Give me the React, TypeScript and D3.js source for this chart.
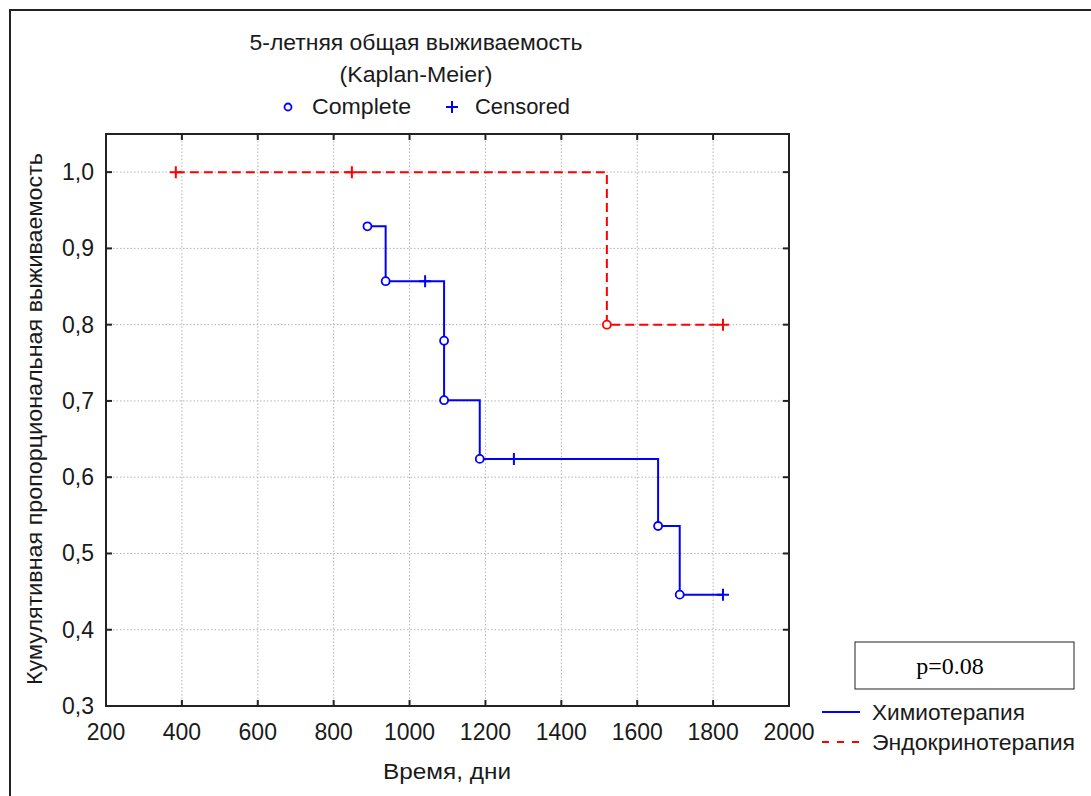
import { useRef, useEffect } from 'react';
import * as d3 from 'd3';

// Chemo group (blue) - time in days, KM survival, censored flag
const chemoTimes = [889, 937, 1041, 1091, 1091, 1185, 1275, 1655, 1712, 1826];
const chemoSurv = [0.929, 0.857, 0.857, 0.779, 0.701, 0.624, 0.624, 0.536, 0.446, 0.446];
const chemoCensored = [0, 0, 1, 0, 0, 0, 1, 0, 0, 1];

// Endocrine group (red)
const endoTimes = [384, 848, 1520, 1826];
const endoSurv = [1.0, 1.0, 0.8, 0.8];
const endoCensored = [1, 1, 0, 1];

const xTicks = [200, 400, 600, 800, 1000, 1200, 1400, 1600, 1800, 2000];
const yTicks = [0.3, 0.4, 0.5, 0.6, 0.7, 0.8, 0.9, 1.0];

const W = 1091;
const H = 796;
const SANS = '"Liberation Sans", Arial, sans-serif';
const TEXT = '#1a1a1a';

export default function App() {
  const svgRef = useRef<SVGSVGElement>(null);

  useEffect(() => {
    const svg = d3.select(svgRef.current);
    svg.selectAll('*').remove();

    const x = d3.scaleLinear().domain([200, 2000]).range([106, 789]);
    const y = d3.scaleLinear().domain([0.3, 1.05]).range([706, 134]);

    // outer frame (cut by the window on the right/bottom)
    svg.append('rect')
      .attr('x', 10).attr('y', 10)
      .attr('width', W + 20).attr('height', H + 20)
      .attr('fill', 'white').attr('stroke', '#222').attr('stroke-width', 2);

    // title
    const title = [
      { t: '5-летняя общая выживаемость', y: 50, len: 333 },
      { t: '(Kaplan-Meier)', y: 82, len: 153 },
    ];
    title.forEach(l => {
      svg.append('text')
        .attr('x', 416).attr('y', l.y)
        .attr('text-anchor', 'middle')
        .attr('font-family', SANS).attr('font-size', 22)
        .attr('fill', TEXT)
        .attr('textLength', l.len).attr('lengthAdjust', 'spacingAndGlyphs')
        .text(l.t);
    });

    // top legend: Complete / Censored
    svg.append('circle')
      .attr('cx', 288).attr('cy', 107).attr('r', 3.5)
      .attr('fill', 'white').attr('stroke', '#0000ff').attr('stroke-width', 1.8);
    svg.append('text')
      .attr('x', 312).attr('y', 114)
      .attr('font-family', SANS).attr('font-size', 22).attr('fill', TEXT)
      .attr('textLength', 99).attr('lengthAdjust', 'spacingAndGlyphs')
      .text('Complete');
    svg.append('path')
      .attr('d', 'M446,107H458M452,101V113')
      .attr('stroke', '#0000ff').attr('stroke-width', 2);
    svg.append('text')
      .attr('x', 475).attr('y', 114)
      .attr('font-family', SANS).attr('font-size', 22).attr('fill', TEXT)
      .attr('textLength', 95).attr('lengthAdjust', 'spacingAndGlyphs')
      .text('Censored');

    // grid
    const grid = svg.append('g')
      .attr('stroke', '#b4b4b4').attr('stroke-width', 1).attr('stroke-dasharray', '1.5,2');
    xTicks.slice(1, -1).forEach(t => {
      grid.append('line').attr('x1', x(t)).attr('x2', x(t)).attr('y1', 134).attr('y2', 706);
    });
    yTicks.slice(1).forEach(t => {
      grid.append('line').attr('x1', 106).attr('x2', 789).attr('y1', y(t)).attr('y2', y(t));
    });

    // plot frame
    svg.append('rect')
      .attr('x', 106).attr('y', 134).attr('width', 789 - 106).attr('height', 706 - 134)
      .attr('fill', 'none').attr('stroke', '#222').attr('stroke-width', 2);

    // ticks (inward on all four sides)
    const ticks = svg.append('g').attr('stroke', '#222').attr('stroke-width', 2);
    xTicks.slice(1, -1).forEach(t => {
      ticks.append('line').attr('x1', x(t)).attr('x2', x(t)).attr('y1', 706).attr('y2', 700);
      ticks.append('line').attr('x1', x(t)).attr('x2', x(t)).attr('y1', 134).attr('y2', 140);
    });
    yTicks.slice(1).forEach(t => {
      ticks.append('line').attr('x1', 106).attr('x2', 112).attr('y1', y(t)).attr('y2', y(t));
      ticks.append('line').attr('x1', 789).attr('x2', 783).attr('y1', y(t)).attr('y2', y(t));
    });

    // tick labels
    svg.append('g').selectAll('text')
      .data(xTicks)
      .join('text')
      .attr('x', d => x(d)).attr('y', 740)
      .attr('text-anchor', 'middle')
      .attr('font-family', SANS).attr('font-size', 23).attr('fill', TEXT)
      .text(d => String(d));
    svg.append('g').selectAll('text')
      .data(yTicks)
      .join('text')
      .attr('x', 94).attr('y', d => y(d) + 8)
      .attr('text-anchor', 'end')
      .attr('font-family', SANS).attr('font-size', 23).attr('fill', TEXT)
      .text(d => d.toFixed(1).replace('.', ','));

    // axis titles
    svg.append('text')
      .attr('x', 447).attr('y', 779)
      .attr('text-anchor', 'middle')
      .attr('font-family', SANS).attr('font-size', 22).attr('fill', TEXT)
      .attr('textLength', 128).attr('lengthAdjust', 'spacingAndGlyphs')
      .text('Время, дни');
    svg.append('text')
      .attr('transform', 'translate(42,419) rotate(-90)')
      .attr('text-anchor', 'middle')
      .attr('font-family', SANS).attr('font-size', 22).attr('fill', TEXT)
      .attr('textLength', 532).attr('lengthAdjust', 'spacingAndGlyphs')
      .text('Кумулятивная пропорциональная выживаемость');

    // survival curves
    const line = d3.line<[number, number]>()
      .x(d => x(d[0])).y(d => y(d[1]))
      .curve(d3.curveStepAfter);

    const drawCurve = (times: number[], surv: number[], cens: number[], color: string, dash: string | null) => {
      const pts: [number, number][] = times.map((t, i) => [t, surv[i]]);
      const g = svg.append('g');
      g.append('path')
        .attr('d', line(pts))
        .attr('fill', 'none')
        .attr('stroke', color).attr('stroke-width', 2)
        .attr('stroke-dasharray', dash);
      pts.forEach((p, i) => {
        const px = x(p[0]);
        const py = y(p[1]);
        if (cens[i]) {
          g.append('path')
            .attr('d', `M${px - 6},${py}H${px + 6}M${px},${py - 6}V${py + 6}`)
            .attr('stroke', color).attr('stroke-width', 2);
        } else {
          g.append('circle')
            .attr('cx', px).attr('cy', py).attr('r', 4)
            .attr('fill', 'white').attr('stroke', color).attr('stroke-width', 1.8);
        }
      });
    };

    drawCurve(endoTimes, endoSurv, endoCensored, '#ff0000', '9,5');
    drawCurve(chemoTimes, chemoSurv, chemoCensored, '#0000ff', null);

    // p-value box
    svg.append('rect')
      .attr('x', 855).attr('y', 642).attr('width', 219).attr('height', 47)
      .attr('fill', 'white').attr('stroke', '#222').attr('stroke-width', 1);
    svg.append('text')
      .attr('x', 950).attr('y', 674)
      .attr('text-anchor', 'middle')
      .attr('font-family', '"Liberation Serif", "Times New Roman", serif')
      .attr('font-size', 24).attr('fill', '#000')
      .text('p=0.08');

    // bottom legend
    const legend = [
      { label: 'Химиотерапия', color: '#0000ff', dash: null, y: 712, len: 153 },
      { label: 'Эндокринотерапия', color: '#ff0000', dash: '7,8', y: 742, len: 203 },
    ];
    legend.forEach(l => {
      svg.append('line')
        .attr('x1', 822).attr('x2', 860).attr('y1', l.y).attr('y2', l.y)
        .attr('stroke', l.color).attr('stroke-width', 2)
        .attr('stroke-dasharray', l.dash);
      svg.append('text')
        .attr('x', 872).attr('y', l.y + 8)
        .attr('font-family', SANS).attr('font-size', 22).attr('fill', TEXT)
        .attr('textLength', l.len).attr('lengthAdjust', 'spacingAndGlyphs')
        .text(l.label);
    });
  }, []);

  return (
    <div style={{ position: 'fixed', left: 0, top: 0, width: W, height: H, background: 'white' }}>
      <svg ref={svgRef} width={W} height={H} style={{ display: 'block' }} />
    </div>
  );
}
